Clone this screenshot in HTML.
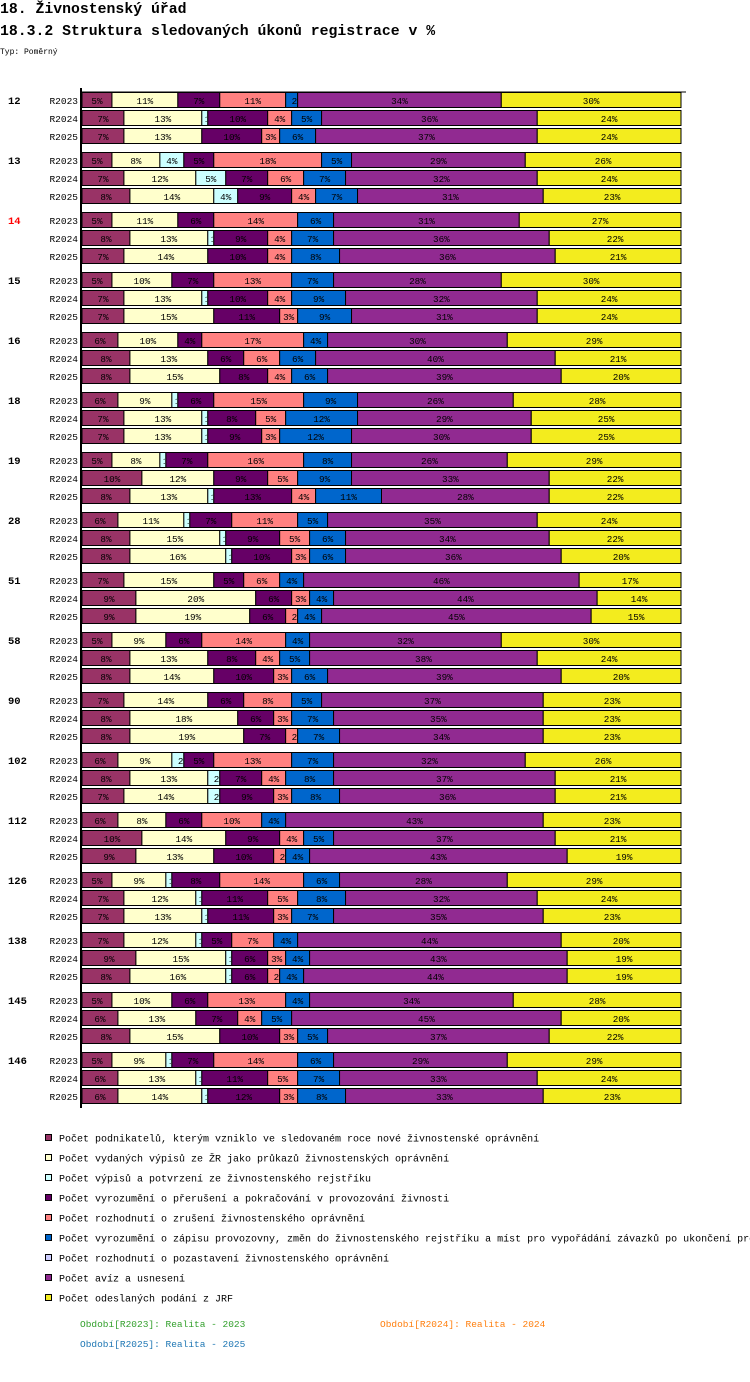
<!DOCTYPE html>
<html><head><meta charset="utf-8">
<style>
body{margin:0;background:#fff;width:750px;height:1382px;overflow:hidden;font-family:"Liberation Mono",monospace;}
svg{position:absolute;left:0;top:0}
</style></head>
<body>
<svg id="chart" width="750" height="1382" xmlns="http://www.w3.org/2000/svg" font-family="Liberation Mono, monospace">
<text x="0" y="13" font-size="14.8" font-weight="bold">18. Živnostenský úřad</text>
<text x="0" y="35" font-size="14.8" font-weight="bold">18.3.2 Struktura sledovaných úkonů registrace v %</text>
<text x="0" y="54" font-size="8">Typ: Poměrný</text>
<g id="bars"></g>
<g id="legend"></g>
<text x="80" y="1327" font-size="9.5" fill="#33a02c">Období[R2023]: Realita - 2023</text>
<text x="380" y="1327" font-size="9.5" fill="#ff7f0e">Období[R2024]: Realita - 2024</text>
<text x="80" y="1347" font-size="9.5" fill="#1f77b4">Období[R2025]: Realita - 2025</text>
</svg>
<script>
const groups=["12","13","14","15","16","18","19","28","51","58","90","102","112","126","138","145","146"];
const periods=["R2023","R2024","R2025"];
const seriesNames=["Počet podnikatelů, kterým vzniklo ve sledovaném roce nové živnostenské oprávnění","Počet vydaných výpisů ze ŽR jako průkazů živnostenských oprávnění","Počet výpisů a potvrzení ze živnostenského rejstříku","Počet vyrozumění o přerušení a pokračování v provozování živnosti","Počet rozhodnutí o zrušení živnostenského oprávnění","Počet vyrozumění o zápisu provozovny, změn do živnostenského rejstříku a míst pro vypořádání závazků po ukončení provozování živnosti","Počet rozhodnutí o pozastavení živnostenského oprávnění","Počet avíz a usnesení","Počet odeslaných podání z JRF"];
const colors=["#993366","#ffffcc","#ccffff","#660066","#ff8080","#0066cc","#ccccff","#912a91","#f3ec1e"];
const values=[
[[5,11,0,7,11,2,0,34,30],[7,13,1,10,4,5,0,36,24],[7,13,0,10,3,6,0,37,24]],
[[5,8,4,5,18,5,0,29,26],[7,12,5,7,6,7,0,32,24],[8,14,4,9,4,7,0,31,23]],
[[5,11,0,6,14,6,0,31,27],[8,13,1,9,4,7,0,36,22],[7,14,0,10,4,8,0,36,21]],
[[5,10,0,7,13,7,0,28,30],[7,13,1,10,4,9,0,32,24],[7,15,0,11,3,9,0,31,24]],
[[6,10,0,4,17,4,0,30,29],[8,13,0,6,6,6,0,40,21],[8,15,0,8,4,6,0,39,20]],
[[6,9,1,6,15,9,0,26,28],[7,13,1,8,5,12,0,29,25],[7,13,1,9,3,12,0,30,25]],
[[5,8,1,7,16,8,0,26,29],[10,12,0,9,5,9,0,33,22],[8,13,1,13,4,11,0,28,22]],
[[6,11,1,7,11,5,0,35,24],[8,15,1,9,5,6,0,34,22],[8,16,1,10,3,6,0,36,20]],
[[7,15,0,5,6,4,0,46,17],[9,20,0,6,3,4,0,44,14],[9,19,0,6,2,4,0,45,15]],
[[5,9,0,6,14,4,0,32,30],[8,13,0,8,4,5,0,38,24],[8,14,0,10,3,6,0,39,20]],
[[7,14,0,6,8,5,0,37,23],[8,18,0,6,3,7,0,35,23],[8,19,0,7,2,7,0,34,23]],
[[6,9,2,5,13,7,0,32,26],[8,13,2,7,4,8,0,37,21],[7,14,2,9,3,8,0,36,21]],
[[6,8,0,6,10,4,0,43,23],[10,14,0,9,4,5,0,37,21],[9,13,0,10,2,4,0,43,19]],
[[5,9,1,8,14,6,0,28,29],[7,12,1,11,5,8,0,32,24],[7,13,1,11,3,7,0,35,23]],
[[7,12,1,5,7,4,0,44,20],[9,15,1,6,3,4,0,43,19],[8,16,1,6,2,4,0,44,19]],
[[5,10,0,6,13,4,0,34,28],[6,13,0,7,4,5,0,45,20],[8,15,0,10,3,5,0,37,22]],
[[5,9,1,7,14,6,0,29,29],[6,13,1,11,5,7,0,33,24],[6,14,1,12,3,8,0,33,23]]
];
const NS="http://www.w3.org/2000/svg";
const X0=82,XW=599,Y0=92,GP=60,RP=18,BH=16;
const xs=p=>X0+p/100*XW;
const rowY=(g,r)=>Y0+g*GP+r*RP;
function mk(tag,attrs,parent){const e=document.createElementNS(NS,tag);for(const k in attrs)e.setAttribute(k,attrs[k]);parent.appendChild(e);return e;}
const bars=document.getElementById('bars');
const defs=mk('defs',{},bars);
let clipId=0;
groups.forEach((gname,g)=>{
  const gl=mk('text',{x:8,y:rowY(g,0)+12,'font-size':10.5,'font-weight':'bold',fill:gname==="14"?"#ff0000":"#000"},bars);
  
  
  gl.textContent=gname;
  periods.forEach((per,r)=>{
    const y=rowY(g,r);
    const pl=mk('text',{x:78,y:y+12,'font-size':9.5,'text-anchor':'end'},bars);
    
    
    pl.textContent=per;
    const vals=values[g][r];
    const tot=vals.reduce((a,b)=>a+b,0);
    let cum=0;
    vals.forEach((v,s)=>{
      if(v<=0)return;
      const x1=xs(cum/tot*100),x2=xs((cum+v)/tot*100);cum+=v;
      const rect=mk('rect',{x:x1,y:y+0.5,width:x2-x1,height:BH-1,fill:colors[s],stroke:'#000','stroke-width':1},bars);
      
      
      const id='c'+(clipId++);
      const cp=mk('clipPath',{id:id},defs);
      mk('rect',{x:x1+1,y:y,width:Math.max(0,x2-x1-2),height:BH},cp);
      const t=mk('text',{x:Math.max((x1+x2)/2,x1+3),y:y+12,'font-size':9.3,'text-anchor':(x2-x1)>16?'middle':'start','clip-path':'url(#'+id+')'},bars);
      
      
      t.textContent=v+'%';
    });
  });
});
const ax=mk('line',{x1:81,y1:88,x2:81,y2:1108,stroke:'#000','stroke-width':2},bars);


const tl=mk('line',{x1:81,y1:92,x2:686,y2:92,stroke:'#000','stroke-width':1},bars);


const leg=document.getElementById('legend');
seriesNames.forEach((n,i)=>{
  const y=1134+i*20;
  const sw=mk('rect',{x:45.5,y:y+0.5,width:6,height:6,fill:colors[i],stroke:'#000','stroke-width':1},leg);
  
  
  const t=mk('text',{x:59,y:y+7.5,'font-size':10},leg);
  
  
  t.textContent=n;
});
</script>
</body></html>
